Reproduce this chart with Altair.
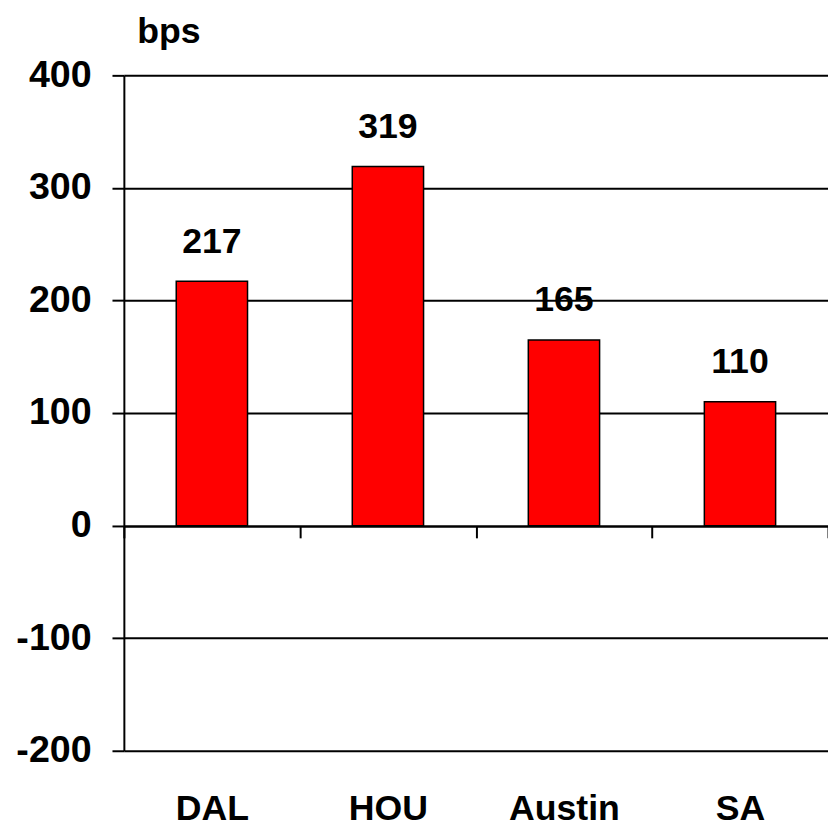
import altair as alt
import pandas as pd

categories = ["DAL", "HOU", "Austin", "SA"]
values = [217, 319, 165, 110]
y_ticks = [-200, -100, 0, 100, 200, 300, 400]

df = pd.DataFrame({"city": categories, "bps": values})

FONT = "Liberation Sans, Arial, Helvetica, sans-serif"

x_enc = alt.X(
    "city:N",
    sort=categories,
    scale=alt.Scale(paddingInner=0, paddingOuter=0),
    axis=alt.Axis(
        title=None,
        orient="bottom",
        offset=-227,
        domain=True,
        domainColor="black",
        domainWidth=2,
        ticks=True,
        tickBand="extent",
        tickSize=12,
        tickColor="black",
        tickWidth=2,
        labelAngle=0,
        labelFont=FONT,
        labelFontSize=36,
        labelFontWeight="bold",
        labelColor="black",
        labelBaseline="alphabetic",
        labelPadding=284,
        grid=False,
    ),
)

y_enc = alt.Y(
    "bps:Q",
    scale=alt.Scale(domain=[-200, 400], nice=False),
    axis=alt.Axis(
        values=y_ticks,
        labelExpr="toString(datum.value)",
        title="bps",
        titleAngle=0,
        titleAlign="center",
        titleBaseline="alphabetic",
        titleX=45,
        titleY=-33,
        titleFont=FONT,
        titleFontSize=36,
        titleFontWeight="bold",
        titleColor="black",
        domain=True,
        domainColor="black",
        domainWidth=2,
        ticks=True,
        tickSize=12,
        tickColor="black",
        tickWidth=2,
        grid=True,
        gridColor="black",
        gridWidth=2,
        gridOpacity=1,
        labelFont=FONT,
        labelFontSize=38,
        labelFontWeight="bold",
        labelColor="black",
        labelPadding=21,
    ),
)

bars = alt.Chart(df).mark_bar(
    color="#FF0000", stroke="black", strokeWidth=1.5,
    width=alt.RelativeBandSize(0.405),
).encode(x=x_enc, y=y_enc)

labels = alt.Chart(df).mark_text(
    dy=-29,
    baseline="alphabetic",
    align="center",
    font=FONT,
    fontSize=36,
    fontWeight="bold",
    color="black",
).encode(
    x=alt.X("city:N", sort=categories),
    y=alt.Y("bps:Q"),
    text=alt.Text("bps:Q"),
)

chart = (
    alt.layer(bars, labels)
    .properties(
        width=711,
        height=682,
        autosize=alt.AutoSizeParams(type="none"),
        padding={"left": 117, "top": 64, "right": 0, "bottom": 76},
        background="white",
    )
    .configure_view(stroke=None)
)

chart.save("out.html", embed_options={"renderer": "svg", "actions": False})
